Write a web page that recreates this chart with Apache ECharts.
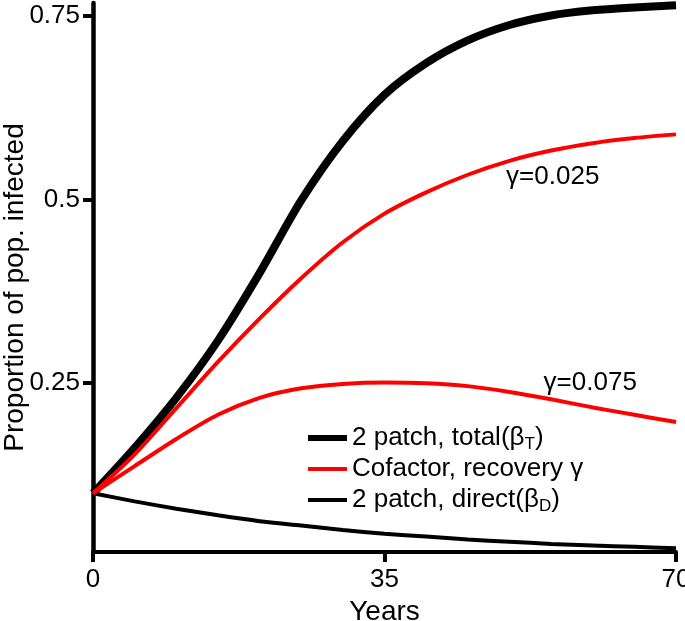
<!DOCTYPE html>
<html>
<head>
<meta charset="utf-8">
<script src="https://cdn.jsdelivr.net/npm/echarts@6/dist/echarts.min.js"></script>
<style>
html,body{margin:0;padding:0;background:#fff;}
#chart{width:685px;height:621px;}
</style>
</head>
<body>
<div id="chart"></div>
<script>
// ---- data ----
const years = [0, 5, 10, 15, 20, 25, 30, 35, 40, 45, 50, 55, 60, 65, 70];
const totalBetaT = [0.100, 0.162, 0.230, 0.308, 0.400, 0.499, 0.580, 0.643, 0.686, 0.717, 0.738, 0.751, 0.758, 0.762, 0.765];
const cofactorG025 = [0.100, 0.153, 0.216, 0.279, 0.338, 0.393, 0.442, 0.481, 0.510, 0.534, 0.553, 0.567, 0.577, 0.584, 0.589];
const cofactorG075 = [0.100, 0.137, 0.174, 0.207, 0.230, 0.243, 0.249, 0.251, 0.250, 0.246, 0.238, 0.228, 0.217, 0.207, 0.197];
const directBetaD = [0.100, 0.089, 0.079, 0.070, 0.062, 0.056, 0.050, 0.045, 0.041, 0.037, 0.034, 0.031, 0.029, 0.027, 0.025];
const yTickValues = [0.25, 0.5, 0.75];
const xTickValues = [0, 35, 70];
const seriesNames = ['2 patch, total(βT)', 'Cofactor, recovery γ', '2 patch, direct(βD)'];
const legendLabels = {
  '2 patch, total(βT)': '2 patch, total(β{sub|T})',
  'Cofactor, recovery γ': 'Cofactor, recovery γ',
  '2 patch, direct(βD)': '2 patch, direct(β{sub|D})'
};
const annotations = [
  { text: 'γ=0.025', at: [55.2, 0.531] },
  { text: 'γ=0.075', at: [59.7, 0.250] }
];

function pairs(xs, ys) { return xs.map((x, i) => [x, ys[i]]); }

const FONT = "'Liberation Sans', Arial, Helvetica, sans-serif";
const chart = echarts.init(document.getElementById('chart'));

const annoLabel = { show: true, position: 'inside', fontSize: 26, color: '#000', fontFamily: FONT, formatter: p => p.name };

const option = {
  animation: false,
  backgroundColor: '#fff',
  textStyle: { fontFamily: FONT, color: '#000' },
  grid: { left: 93, right: 9, top: 3, bottom: 69, containLabel: false, outerBoundsMode: 'none' },
  xAxis: {
    type: 'value', min: 0, max: 70, interval: 35,
    name: 'Years', nameLocation: 'middle', nameGap: 46, nameMoveOverlap: false,
    nameTextStyle: { fontSize: 28, color: '#000', fontFamily: FONT },
    axisLine: { show: true, lineStyle: { color: '#000', width: 4 } },
    axisTick: { show: true, length: 10, lineStyle: { color: '#000', width: 4 }, customValues: xTickValues },
    axisLabel: { fontSize: 26, color: '#000', fontFamily: FONT, margin: 15, customValues: xTickValues },
    splitLine: { show: false }
  },
  yAxis: {
    type: 'value', min: 0.02, max: 0.768,
    name: 'Proportion of pop. infected', nameLocation: 'middle', nameGap: 64, nameRotate: 90, nameMoveOverlap: false,
    nameTextStyle: { fontSize: 28, color: '#000', fontFamily: FONT, padding: [0, 20, 0, 0] },
    axisLine: { show: true, lineStyle: { color: '#000', width: 4.5 } },
    axisTick: { show: true, length: 10, lineStyle: { color: '#000', width: 4 }, customValues: yTickValues },
    axisLabel: { fontSize: 26, color: '#000', fontFamily: FONT, margin: 13, customValues: yTickValues,
      formatter: v => String(v) },
    splitLine: { show: false }
  },
  legend: {
    orient: 'vertical', left: 303, top: 418,
    itemWidth: 39, itemHeight: 14, itemGap: 1, itemTextGap: 5,
    symbolKeepAspect: true,
    data: [
      { name: seriesNames[0], icon: 'path://M0,0H39V6H0Z' },
      { name: seriesNames[1], icon: 'path://M0,0H39V4H0Z' },
      { name: seriesNames[2], icon: 'path://M0,0H39V4H0Z' }
    ],
    formatter: name => legendLabels[name],
    textStyle: {
      fontSize: 26, color: '#000', fontFamily: FONT, lineHeight: 30,
      rich: { sub: { fontSize: 17, fontFamily: FONT, color: '#000', padding: [13, 0, 0, 0] } }
    }
  },
  series: [
    {
      name: seriesNames[0], type: 'line', data: pairs(years, totalBetaT),
      smooth: 0.3, symbol: 'none', lineStyle: { color: '#000', width: 8 }, itemStyle: { color: '#000' }, z: 3
    },
    {
      name: seriesNames[1], type: 'line', data: pairs(years, cofactorG025),
      smooth: 0.3, symbol: 'none', lineStyle: { color: '#ff0000', width: 4 }, itemStyle: { color: '#ff0000' }, z: 4,
      markPoint: { symbol: 'circle', symbolSize: 0, label: annoLabel,
        data: [{ name: annotations[0].text, coord: annotations[0].at }] }
    },
    {
      name: seriesNames[1], type: 'line', data: pairs(years, cofactorG075),
      smooth: 0.3, symbol: 'none', lineStyle: { color: '#ff0000', width: 4 }, itemStyle: { color: '#ff0000' }, z: 4,
      markPoint: { symbol: 'circle', symbolSize: 0, label: annoLabel,
        data: [{ name: annotations[1].text, coord: annotations[1].at }] }
    },
    {
      name: seriesNames[2], type: 'line', data: pairs(years, directBetaD),
      smooth: 0.3, symbol: 'none', lineStyle: { color: '#000', width: 4 }, itemStyle: { color: '#000' }, z: 3
    }
  ]
};
chart.setOption(option);
</script>
</body>
</html>
